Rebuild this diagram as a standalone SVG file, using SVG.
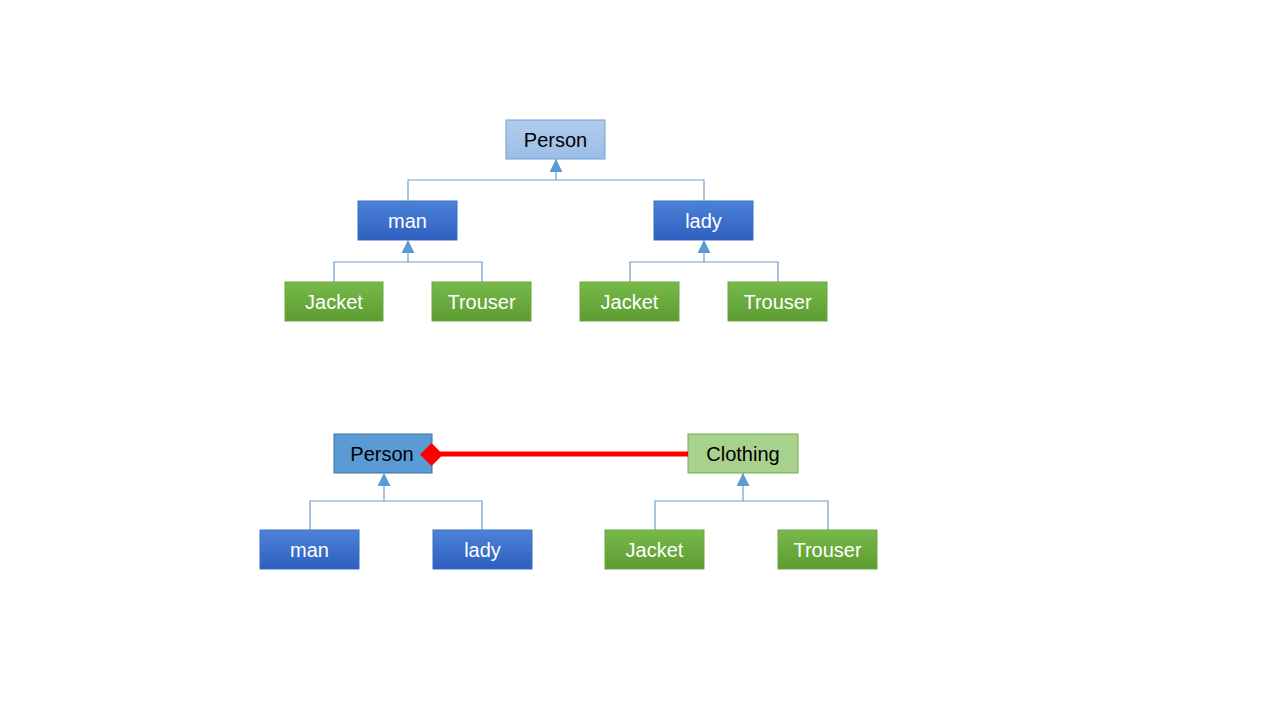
<svg xmlns="http://www.w3.org/2000/svg" width="1280" height="720" viewBox="0 0 1280 720">
<defs>
<linearGradient id="gLight" x1="0" y1="0" x2="0" y2="1"><stop offset="0" stop-color="#b1cdee"/><stop offset="1" stop-color="#9bbde6"/></linearGradient>
<linearGradient id="gBlue" x1="0" y1="0" x2="0" y2="1"><stop offset="0" stop-color="#4c82d8"/><stop offset="1" stop-color="#2e5fbf"/></linearGradient>
<linearGradient id="gGreen" x1="0" y1="0" x2="0" y2="1"><stop offset="0" stop-color="#78b94a"/><stop offset="1" stop-color="#5c9c32"/></linearGradient>
<marker id="tri" viewBox="0 0 12 12" refX="12" refY="6" markerWidth="13" markerHeight="13" markerUnits="userSpaceOnUse" orient="auto"><path d="M0,0 L12,6 L0,12 Z" fill="#5b9bd5"/></marker>
</defs>
<style>
.n rect{stroke-width:1}
.light rect{fill:url(#gLight);stroke:#6f9fd4}
.blue rect{fill:url(#gBlue);stroke:#3e6cc0}
.green rect{fill:url(#gGreen);stroke:#6aa73e}
.mid rect{fill:#5b9bd5;stroke:#41719c}
.lg rect{fill:#a9d18e;stroke:#70ad47}
.n text{font-family:"Liberation Sans",Arial,sans-serif;font-size:20px;text-anchor:middle;dominant-baseline:central}
.light text,.mid text,.lg text{fill:#000}
.blue text,.green text{fill:#fff}
.c{fill:none;stroke:#6a9fd0;stroke-width:1.2}
</style>
<rect width="1280" height="720" fill="#fff"/>
<g id="person-top" class="n light"><rect x="506" y="120" width="99" height="39"/><text x="555.5" y="139.5">Person</text></g>
<g id="man-top" class="n blue"><rect x="358" y="201" width="99" height="39"/><text x="407.5" y="220.5">man</text></g>
<g id="lady-top" class="n blue"><rect x="654" y="201" width="99" height="39"/><text x="703.5" y="220.5">lady</text></g>
<g id="jacket-man" class="n green"><rect x="285" y="282" width="98" height="39"/><text x="334" y="301.5">Jacket</text></g>
<g id="trouser-man" class="n green"><rect x="432" y="282" width="99" height="39"/><text x="481.5" y="301.5">Trouser</text></g>
<g id="jacket-lady" class="n green"><rect x="580" y="282" width="99" height="39"/><text x="629.5" y="301.5">Jacket</text></g>
<g id="trouser-lady" class="n green"><rect x="728" y="282" width="99" height="39"/><text x="777.5" y="301.5">Trouser</text></g>
<g id="person-bottom" class="n mid"><rect x="334" y="434" width="98" height="39"/><text x="382" y="454">Person</text></g>
<g id="clothing" class="n lg"><rect x="688" y="434" width="110" height="39"/><text x="743" y="454">Clothing</text></g>
<g id="man-bottom" class="n blue"><rect x="260" y="530" width="99" height="39"/><text x="309.5" y="549.5">man</text></g>
<g id="lady-bottom" class="n blue"><rect x="433" y="530" width="99" height="39"/><text x="482.5" y="549.5">lady</text></g>
<g id="jacket-bottom" class="n green"><rect x="605" y="530" width="99" height="39"/><text x="654.5" y="549.5">Jacket</text></g>
<g id="trouser-bottom" class="n green"><rect x="778" y="530" width="99" height="39"/><text x="827.5" y="549.5">Trouser</text></g>
<g id="connectors">
<path class="c" d="M408,201 V180 H704 V201"/>
<path class="c" d="M556,180 V159" marker-end="url(#tri)"/>
<path class="c" d="M334,282 V262 H482 V282"/>
<path class="c" d="M408,262 V240" marker-end="url(#tri)"/>
<path class="c" d="M630,282 V262 H778 V282"/>
<path class="c" d="M704,262 V240" marker-end="url(#tri)"/>
<path class="c" d="M310,530 V501 H482 V530"/>
<path class="c" d="M384,501 V473" marker-end="url(#tri)"/>
<path class="c" d="M655,530 V501 H828 V530"/>
<path class="c" d="M743,501 V473" marker-end="url(#tri)"/>
<line x1="440" y1="454" x2="688" y2="454" stroke="#ff0000" stroke-width="5"/>
<path d="M420,454.5 L431.5,443 L443,454.5 L431.5,466 Z" fill="#ff0000"/>
</g>
</svg>
